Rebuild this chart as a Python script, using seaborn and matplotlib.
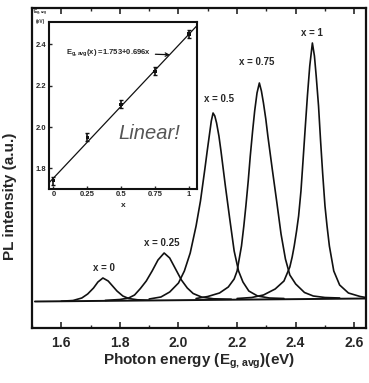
import numpy as np
import pandas as pd
import matplotlib
matplotlib.use("Agg")
import matplotlib.pyplot as plt
import seaborn as sns

# PL spectra (energy in eV, intensity in a.u. above the baseline)
E_x0 = [1.60, 1.64, 1.67, 1.69, 1.71, 1.725, 1.742, 1.76, 1.775, 1.79, 1.81, 1.83, 1.86, 1.90]
I_x0 = [-0.2, 0.5, 3, 7, 13, 19, 23, 20, 15, 10, 5, 2.5, 1.2, 0.8]

E_x025 = [1.75, 1.80, 1.83, 1.85, 1.87, 1.89, 1.91, 1.93, 1.951, 1.97, 1.99, 2.01, 2.03, 2.05, 2.08, 2.12, 2.18]
I_x025 = [0.6, 1.5, 3, 6, 12.5, 20, 30, 41, 48, 43, 32, 21, 13, 7.5, 3.8, 2.2, 1.8]

E_x05 = [1.90, 1.94, 1.97, 2.00, 2.02, 2.04, 2.06, 2.075, 2.09, 2.098, 2.105, 2.112, 2.118,
         2.124, 2.13, 2.138, 2.145, 2.16, 2.175, 2.19, 2.205, 2.22, 2.24, 2.27, 2.31, 2.36]
I_x05 = [2, 4, 9, 18, 30, 48, 75, 100, 132, 150, 165, 180, 188,
         185, 178, 165, 150, 115, 82, 50, 30, 19, 10, 5, 3, 2.5]

E_x075 = [2.06, 2.10, 2.14, 2.17, 2.19, 2.20, 2.215, 2.223, 2.23, 2.238, 2.245, 2.253, 2.26,
          2.268, 2.276, 2.283, 2.29, 2.298, 2.305, 2.32, 2.335, 2.35, 2.365, 2.38, 2.40,
          2.43, 2.46, 2.50, 2.55]
I_x075 = [2.5, 4.5, 8, 14, 22, 30, 55, 75, 95, 120, 145, 170, 190,
          208, 218, 210, 198, 182, 165, 132, 100, 67, 42, 26, 17,
          8.5, 5, 3.5, 3]

E_x1 = [2.20, 2.25, 2.29, 2.33, 2.36, 2.38, 2.388, 2.395, 2.403, 2.41, 2.418, 2.425, 2.433,
        2.44, 2.448, 2.457, 2.464, 2.47, 2.478, 2.485, 2.492, 2.50, 2.507, 2.515, 2.53,
        2.55, 2.58, 2.62, 2.64]
I_x1 = [2.5, 3.5, 6, 12, 20, 34, 44, 55, 70, 85, 110, 140, 175,
        205, 235, 258, 245, 225, 195, 160, 128, 95, 75, 55, 30,
        16, 8, 4.5, 3.5]

base_E = [1.51, 2.64]
base_I = [-0.5, 2.5]

peak_labels = ["x = 0", "x = 0.25", "x = 0.5", "x = 0.75", "x = 1"]
label_E = [1.745, 1.943, 2.139, 2.268, 2.455]
label_I = [33, 58, 202, 239, 268]

# inset: band gap vs composition
comp_x = [0, 0.25, 0.5, 0.75, 1]
gap_E = [1.74, 1.95, 2.11, 2.27, 2.45]
gap_err = [0.02, 0.02, 0.02, 0.02, 0.02]
fit_x = [-0.04, 1.07]
fit_y = [1.725, 2.498]

sns.set_theme(style="ticks")
plt.rcParams['font.family'] = ['Liberation Sans', 'DejaVu Sans']
plt.rcParams['font.weight'] = 'bold'
plt.rcParams['mathtext.default'] = 'regular'

fig = plt.figure(figsize=(3.69, 3.83), dpi=100)
ax = fig.add_axes([32/369, 55/383, 334/369, 320/383])

curves = [(E_x0, I_x0), (E_x025, I_x025), (E_x05, I_x05), (E_x075, I_x075), (E_x1, I_x1)]
for e, i in curves:
    sns.lineplot(x=e, y=i, ax=ax, color="#111111", lw=1.2)
sns.lineplot(x=base_E, y=base_I, ax=ax, color="#111111", lw=1.4)

for t, xe, yi in zip(peak_labels, label_E, label_I):
    ax.text(xe, yi, t, ha="center", va="center", fontsize=7, fontweight="bold")

ax.set_xlim(1.512, 2.64)
ax.set_ylim(-27, 293)
ax.set_xticks(np.arange(1.6, 2.61, 0.2))
ax.set_xticklabels(["1.6", "1.8", "2.0", "2.2", "2.4", "2.6"])
ax.set_xticks(np.arange(1.5, 2.65, 0.1), minor=True)
ax.set_yticks([])
ax.tick_params(axis="x", which="major", direction="in", length=4, width=1.2,
               labelsize=10, top=True, pad=6)
ax.tick_params(axis="x", which="minor", direction="in", length=2, width=1, top=True)
for s in ax.spines.values():
    s.set_linewidth(1.6)
    s.set_color("#111111")
ax.set_xlabel(r"Photon energy (E$_{g,avg}$)(eV)", fontsize=11, fontweight="bold", labelpad=1)
ax.set_ylabel("PL intensity (a.u.)", fontsize=11, fontweight="bold")
ax.yaxis.set_label_coords(-0.045, 0.41)

# inset
ins = fig.add_axes([48.7/369, (383-189)/383, (197-48.7)/369, (189-21.7)/383])
ins.set_facecolor("white")
sns.lineplot(x=fit_x, y=fit_y, ax=ins, color="#111111", lw=0.9)
ins.errorbar(comp_x, gap_E, yerr=gap_err, fmt="none", ecolor="#111111", elinewidth=1.2, capsize=1.2)
sns.scatterplot(x=comp_x, y=gap_E, ax=ins, color="#111111", s=6, marker="s", edgecolor="none")
ins.set_xlim(-0.035, 1.06)
ins.set_ylim(1.70, 2.51)
ins.set_xticks(comp_x)
ins.set_xticklabels(["0", "0.25", "0.5", "0.75", "1"])
ins.set_yticks([1.8, 2.0, 2.2, 2.4])
ins.set_yticklabels(["1.8", "2.0", "2.2", "2.4"])
ins.tick_params(direction="in", length=2.5, width=1, labelsize=5.5, pad=1.5)
for s in ins.spines.values():
    s.set_linewidth(1.5)
    s.set_color("#111111")
ins.set_xlabel("x", fontsize=6, fontweight="bold", labelpad=3)
ins.annotate(r"E$_{g,avg}$(x) =1.753+0.696x", xy=(0.86, 2.35), xytext=(0.09, 2.36),
             fontsize=5.5, fontweight="bold", va="center",
             arrowprops=dict(arrowstyle="->", color="#111111", lw=0.9,
                             shrinkA=1, shrinkB=0, mutation_scale=6))
ins.text(0.71, 1.97, "Linear!", fontsize=14.5, fontstyle="italic", fontweight="normal",
         color="#555555", ha="center", va="center")
fig.text(40/369, 1 - 16/383, "E$_{g,avg}$\n(eV)", fontsize=3.5, ha="center", va="center")

fig.savefig("out.png", dpi=100)
